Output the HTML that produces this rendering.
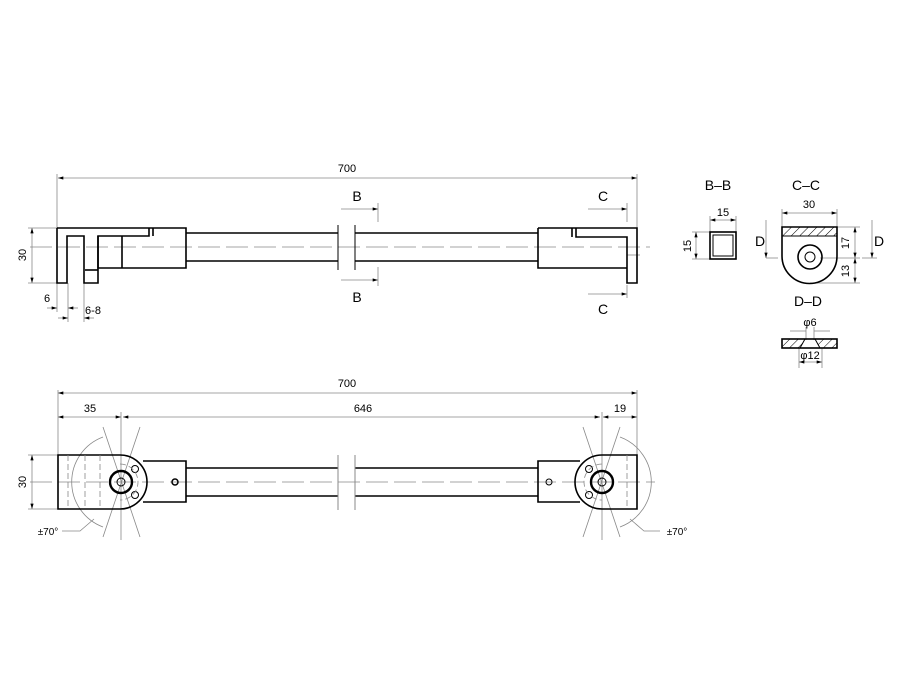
<!DOCTYPE html>
<html><head><meta charset="utf-8"><style>
html,body{margin:0;padding:0;background:#fff;}
svg{display:block;}
text{font-family:"Liberation Sans","DejaVu Sans",sans-serif;fill:#000;}
</style></head><body>
<svg width="900" height="700" viewBox="0 0 900 700" xmlns="http://www.w3.org/2000/svg">
<defs>
<marker id="a" viewBox="0 0 10 6" refX="10" refY="3" markerWidth="7" markerHeight="4" orient="auto-start-reverse"><path d="M0,0L10,3L0,6z" fill="#000"/></marker>
<pattern id="h" width="6" height="6" patternUnits="userSpaceOnUse" patternTransform="rotate(45)"><line x1="0" y1="0" x2="0" y2="6" stroke="#000" stroke-width="1"/></pattern>
</defs>
<g fill="none" stroke="#888" stroke-width="0.8">
<line x1="58" y1="178" x2="637" y2="178" marker-start="url(#a)" marker-end="url(#a)"/>
<line x1="57" y1="174" x2="57" y2="228"/>
<line x1="637" y1="174" x2="637" y2="228"/>
<line x1="32" y1="228" x2="32" y2="283" marker-start="url(#a)" marker-end="url(#a)"/>
<line x1="28" y1="228" x2="57" y2="228"/><line x1="28" y1="283" x2="57" y2="283"/>
<line x1="57" y1="283" x2="57" y2="312"/><line x1="68" y1="283" x2="68" y2="322"/><line x1="84" y1="283" x2="84" y2="322"/>
<line x1="47" y1="308" x2="57" y2="308" marker-end="url(#a)"/><line x1="78" y1="308" x2="68" y2="308" marker-end="url(#a)"/>
<line x1="58" y1="318" x2="68" y2="318" marker-end="url(#a)"/><line x1="94" y1="318" x2="84" y2="318" marker-end="url(#a)"/>
<line x1="30" y1="247" x2="650" y2="247" stroke-dasharray="22,6"/>
<line x1="341" y1="209" x2="378" y2="209" marker-end="url(#a)"/><line x1="378" y1="203" x2="378" y2="222"/>
<line x1="341" y1="280" x2="378" y2="280" marker-end="url(#a)"/><line x1="378" y1="267" x2="378" y2="286"/>
<line x1="588" y1="209" x2="627" y2="209" marker-end="url(#a)"/><line x1="627" y1="203" x2="627" y2="222"/>
<line x1="588" y1="294" x2="627" y2="294" marker-end="url(#a)"/><line x1="627" y1="285" x2="627" y2="298"/>
<line x1="627" y1="255" x2="640" y2="255"/>
<line x1="58" y1="393" x2="637" y2="393" marker-start="url(#a)" marker-end="url(#a)"/>
<line x1="58" y1="417" x2="121" y2="417" marker-start="url(#a)" marker-end="url(#a)"/>
<line x1="123" y1="417" x2="600" y2="417" marker-start="url(#a)" marker-end="url(#a)"/>
<line x1="603" y1="417" x2="637" y2="417" marker-start="url(#a)" marker-end="url(#a)"/>
<line x1="58" y1="390" x2="58" y2="455"/><line x1="637" y1="390" x2="637" y2="455"/>
<line x1="121" y1="412" x2="121" y2="540"/><line x1="602" y1="412" x2="602" y2="540"/>
<line x1="32" y1="455" x2="32" y2="509" marker-start="url(#a)" marker-end="url(#a)"/>
<line x1="28" y1="455" x2="58" y2="455"/><line x1="28" y1="509" x2="58" y2="509"/>
<line x1="30" y1="482" x2="655" y2="482" stroke-dasharray="22,6"/>
<path d="M103,437 A48,48 0 0 0 103,527" /><path d="M620,437 A48,48 0 0 1 620,527"/>
<line x1="103" y1="427" x2="140" y2="537" /><line x1="103" y1="537" x2="140" y2="427"/>
<line x1="620" y1="427" x2="583" y2="537"/><line x1="620" y1="537" x2="583" y2="427"/>
<path d="M62,531 L80,531 L94,519"/><path d="M660,531 L644,531 L630,519"/>
<line x1="790" y1="331" x2="806" y2="331" /><line x1="830" y1="331" x2="814" y2="331"/>
<line x1="806" y1="327" x2="806" y2="340"/><line x1="814" y1="327" x2="814" y2="340"/>
<line x1="799" y1="348" x2="799" y2="368"/><line x1="822" y1="348" x2="822" y2="368"/>
<line x1="799" y1="362" x2="822" y2="362" marker-start="url(#a)" marker-end="url(#a)"/>
<line x1="710" y1="220" x2="736" y2="220" marker-start="url(#a)" marker-end="url(#a)"/>
<line x1="710" y1="216" x2="710" y2="232"/><line x1="736" y1="216" x2="736" y2="232"/>
<line x1="696" y1="232" x2="696" y2="259" marker-start="url(#a)" marker-end="url(#a)"/>
<line x1="692" y1="232" x2="710" y2="232"/><line x1="692" y1="259" x2="710" y2="259"/>
<line x1="782" y1="213" x2="837" y2="213" marker-start="url(#a)" marker-end="url(#a)"/>
<line x1="782" y1="209" x2="782" y2="227"/><line x1="837" y1="209" x2="837" y2="227"/>
<line x1="855" y1="227" x2="855" y2="258" marker-start="url(#a)" marker-end="url(#a)"/>
<line x1="855" y1="258" x2="855" y2="283" marker-start="url(#a)" marker-end="url(#a)"/>
<line x1="837" y1="227" x2="860" y2="227"/><line x1="820" y1="258" x2="860" y2="258"/><line x1="810" y1="283" x2="860" y2="283"/>
<line x1="766" y1="220" x2="766" y2="258" marker-end="url(#a)"/><line x1="766" y1="258" x2="778" y2="258"/>
<line x1="872" y1="220" x2="872" y2="258" marker-end="url(#a)"/><line x1="862" y1="258" x2="877" y2="258"/>
</g>
<g fill="none" stroke="#000" stroke-width="1.6">
<path d="M57,228 L186,228 L186,268 L98,268 L98,236 L149,236 L149,228 M153,228 L153,236"/>
<path d="M57,228 L57,283 L67,283 L67,236 L84,236 L84,283 L98,283 L98,236"/>
<line x1="85" y1="270" x2="98" y2="270"/><line x1="122" y1="236" x2="122" y2="268"/>
<path d="M186,233 L338,233 M186,261 L338,261 M355,233 L538,233 M355,261 L538,261"/>
<path d="M538,228 L637,228 L637,283 L627,283 L627,237 L576,237 L576,228 M572,228 L572,237 M538,228 L538,268 L627,268"/>
<path d="M58,455 L120,455 A27,27 0 0 1 120,509 L58,509 Z"/>
<path d="M143,461 L186,461 L186,502 L143,502"/>
<path d="M186,468 L338,468 M186,496 L338,496 M355,468 L538,468 M355,496 L538,496"/>
<path d="M637,455 L602,455 A27,27 0 0 0 602,509 L637,509 Z"/>
<path d="M580,461 L538,461 L538,502 L580,502"/>
<circle cx="121" cy="482" r="11" stroke-width="2.4"/><circle cx="602" cy="482" r="11" stroke-width="2.4"/>
<rect x="710" y="232" width="26" height="27"/><rect x="713" y="235" width="20" height="21" stroke-width="1"/>
<path d="M782,227 L837,227 L837,256 A27.5,27.5 0 0 1 782,256 Z"/>
<circle cx="810" cy="257" r="12"/>
<rect x="782" y="339" width="55" height="9"/>
</g>
<g stroke="#000" stroke-width="1">
<rect x="782" y="227" width="55" height="9" fill="url(#h)"/>
<path d="M782,339 L805,339 L800,348 L782,348 Z M837,339 L815,339 L820,348 L837,348 Z" fill="url(#h)"/>
<circle cx="810" cy="257" r="5" fill="none"/>
<circle cx="121" cy="482" r="4" fill="none"/><circle cx="602" cy="482" r="4" fill="none"/>
<circle cx="135" cy="469" r="3.5" fill="none"/><circle cx="135" cy="495" r="3.5" fill="none"/>
<circle cx="589" cy="469" r="3.5" fill="none"/><circle cx="589" cy="495" r="3.5" fill="none"/>
<circle cx="175" cy="482" r="3" fill="none" stroke-width="1.5"/><circle cx="549" cy="482" r="3" fill="none"/>
<path d="M338,225 L338,270 M355,225 L355,270" fill="none"/>
<path d="M338,455 L338,510 M355,455 L355,510" fill="none" stroke="#888"/>
</g>
<g fill="none" stroke="#888" stroke-width="0.8" stroke-dasharray="6,3">
<line x1="68" y1="455" x2="68" y2="509"/><line x1="85" y1="455" x2="85" y2="509"/><line x1="100" y1="455" x2="100" y2="509"/>
<line x1="627" y1="455" x2="627" y2="509"/>
<path d="M120,464 A18,18 0 0 1 120,500"/><path d="M602,464 A18,18 0 0 0 602,500"/>
</g>
<g font-size="11" text-anchor="middle">
<text x="347" y="172">700</text>
<text x="357" y="201" font-size="14">B</text><text x="357" y="302" font-size="14">B</text>
<text x="603" y="201" font-size="14">C</text><text x="603" y="314" font-size="14">C</text>
<text x="47" y="302">6</text><text x="93" y="314">6-8</text>
<text transform="translate(26,255) rotate(-90)">30</text>
<text x="347" y="387">700</text>
<text x="90" y="412">35</text><text x="363" y="412">646</text><text x="620" y="412">19</text>
<text transform="translate(26,482) rotate(-90)">30</text>
<text x="48" y="535" font-size="10">±70°</text><text x="677" y="535" font-size="10">±70°</text>
<text x="718" y="190" font-size="14">B–B</text>
<text x="806" y="190" font-size="14">C–C</text>
<text x="808" y="306" font-size="14">D–D</text>
<text x="723" y="216">15</text>
<text transform="translate(691,246) rotate(-90)">15</text>
<text x="809" y="208">30</text>
<text transform="translate(849,243) rotate(-90)">17</text>
<text transform="translate(849,271) rotate(-90)">13</text>
<text x="760" y="246" font-size="14">D</text><text x="879" y="246" font-size="14">D</text>
<text x="810" y="326">φ6</text><text x="810" y="359">φ12</text>
</g>
</svg>
</body></html>
